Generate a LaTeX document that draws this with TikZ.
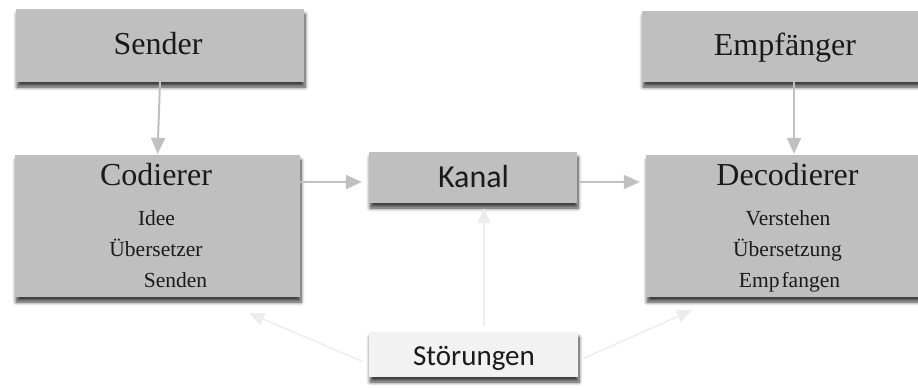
\documentclass[tikz,border=0pt]{standalone}
\usepackage{fontspec}
\setmainfont{Liberation Serif}
\newfontfamily\calfont{Carlito}
\usetikzlibrary{arrows.meta,calc,shadows.blur}

\definecolor{boxgray}{HTML}{BFBFBF}
\definecolor{paleback}{HTML}{F2F2F2}
\definecolor{arrowgray}{HTML}{C0C0C0}
\definecolor{palearrow}{HTML}{EDEDED}
\definecolor{ink}{HTML}{1A1A1A}

\tikzset{
  box/.style={rectangle, fill=boxgray, draw=none, inner sep=0pt,
    blur shadow={shadow xshift=1pt, shadow yshift=-5pt,
      shadow blur radius=3.5pt, shadow blur steps=8, shadow opacity=75}},
  palebox/.style={box, fill=paleback},
  title/.style={anchor=base, text=ink, inner sep=0pt,
    font=\fontsize{32}{38}\selectfont},
  item/.style={anchor=base, text=ink, inner sep=0pt,
    font=\fontsize{21.5}{25}\selectfont},
  sanslabel/.style={anchor=base, text=ink, inner sep=0pt},
  arr/.style={draw=arrowgray, line width=2pt,
    -{Triangle[length=16pt,width=14pt]}},
  palearr/.style={draw=palearrow, line width=1.5pt,
    -{Triangle[length=15pt,width=13pt]}},
}

\begin{document}
\begin{tikzpicture}[x=1pt,y=-1pt]
\useasboundingbox (0,0) rectangle (918,389);

% boxes
\node[box, minimum width=288pt, minimum height=73pt] (snd) at (160,45.5) {};
\node[box, minimum width=286pt, minimum height=71pt] (emp) at (785,46.5) {};
\node[box, minimum width=285pt, minimum height=142pt] (cod) at (157.5,226) {};
\node[box, minimum width=208pt, minimum height=51pt] (kan) at (473,177.5) {};
\node[box, minimum width=283pt, minimum height=142pt] (dec) at (787.5,226) {};
\node[palebox, minimum width=209pt, minimum height=45pt] (sto) at (473.5,354.5) {};

% texts
\node[title] (sndt) at (158,54) {Sender};
\node[title] (empt) at (785,55) {Empfänger};
\node[title] (codt) at (156,185) {Codierer};
\node[item] (cod1) at (156.5,225) {Idee};
\node[item] (cod2) at (156,256) {Übersetzer};
\node[item] (cod3) at (175.5,287) {Senden};
\node[title] (dect) at (787.5,185) {Decodierer};
\node[item] (dec1) at (788,225) {Verstehen};
\node[item] (dec2) at (787.5,256) {Übersetzung};
\node[item] (dec3) at (789.5,287) {Emp\kern2pt fangen};
\node[sanslabel, font=\calfont\fontsize{32}{38}\selectfont] (kant) at (473.5,187) {Kanal};
\node[sanslabel, font=\calfont\fontsize{29}{35}\selectfont] (stot) at (474,365) {Störungen};

% helper coordinates for connector lines
\coordinate (hy) at (0,182);
\coordinate (ex) at (794,0);
\coordinate (sx) at (484,0);

% main flow
\draw[arr, shorten >=1pt] (snd.south) -- (cod.north);
\draw[arr, shorten >=1pt] (emp.south -| ex) -- (dec.north -| ex);
\draw[arr, shorten >=7pt] (cod.east |- hy) -- (kan.west |- hy);
\draw[arr, shorten <=3pt, shorten >=6pt] (kan.east |- hy) -- (dec.west |- hy);

% disturbances
\draw[palearr, shorten <=6pt, shorten >=5pt] (sto.north -| sx) -- (kan.south -| sx);
\draw[palearr] ($(sto.west)+(-6,7)$) -- ($(cod.south east)+(-51,16)$);
\draw[palearr] ($(sto.east)+(5,4)$) -- ($(dec.south west)+(46,13)$);
\end{tikzpicture}
\end{document}
